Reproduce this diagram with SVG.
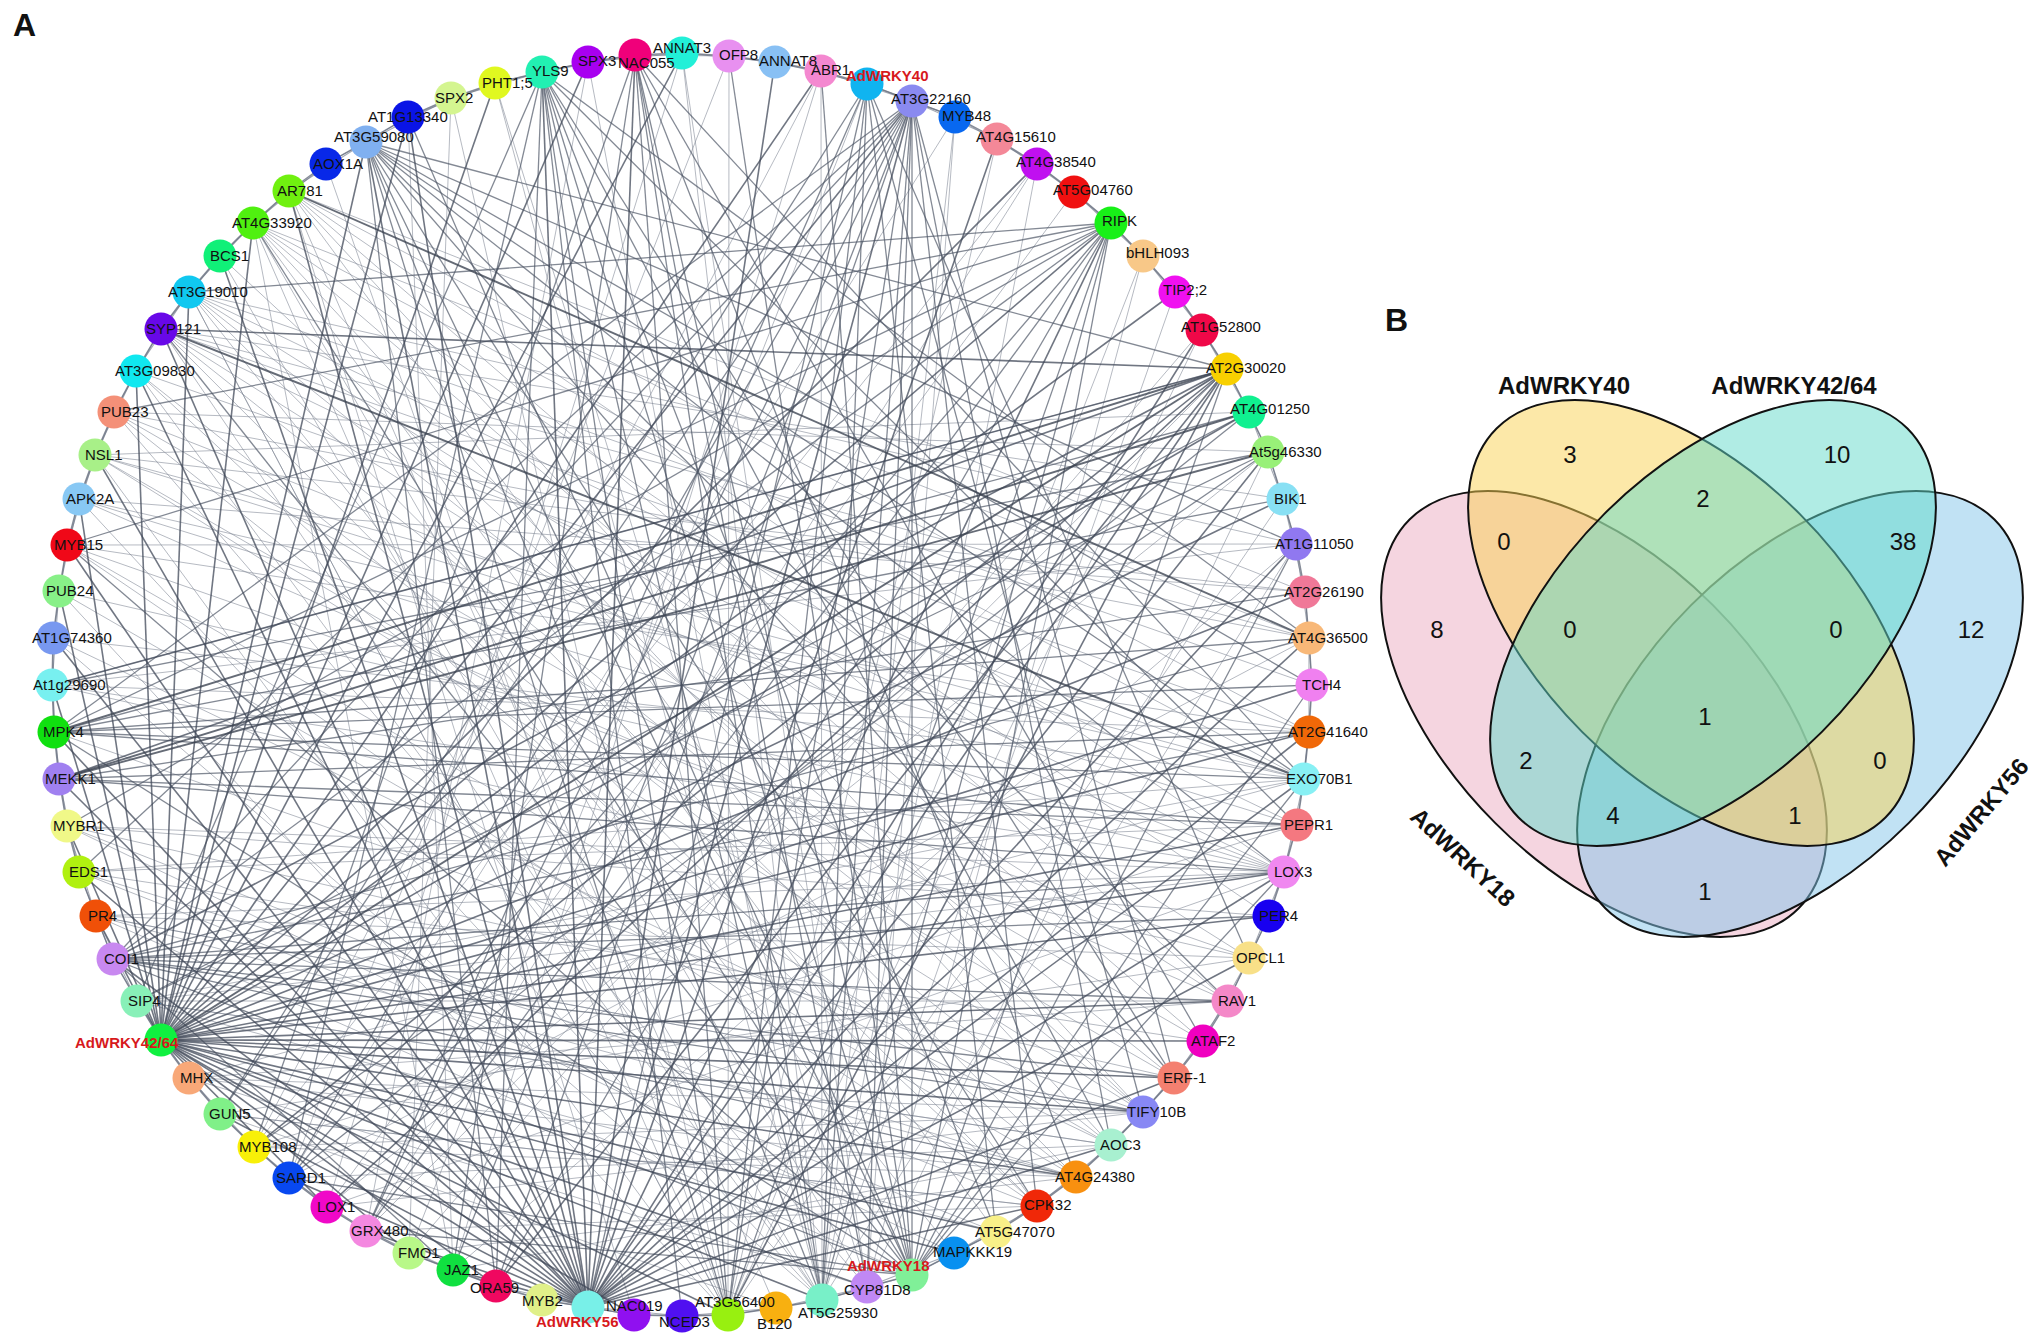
<svg xmlns="http://www.w3.org/2000/svg" width="2033" height="1337" viewBox="0 0 2033 1337">
<style>
text{font-family:"Liberation Sans",Arial,Helvetica,sans-serif}
.lbl{font-size:15px;fill:#111}
.red{font-size:15px;font-weight:bold;fill:#d7191c}
.panel{font-size:32px;font-weight:bold;fill:#111}
.e1{stroke:#7a8290;stroke-width:1;stroke-opacity:0.55}
.e2{stroke:#4f5767;stroke-width:1.3;stroke-opacity:0.7}
.e3{stroke:#404858;stroke-width:1.6;stroke-opacity:0.75}
.e4{stroke:#3a4150;stroke-width:1.9;stroke-opacity:0.78}
.ring{fill:none;stroke:#5f6777;stroke-width:1.4;stroke-opacity:0.75}
.ring2{fill:none;stroke:#6b7383;stroke-width:1.1;stroke-opacity:0.6}
.set{stroke:#111;stroke-width:2;fill-opacity:0.5}
.num{font-size:24px;text-anchor:middle;fill:#111}
.vt{font-size:24px;font-weight:bold;text-anchor:middle;fill:#111}
</style>
<rect width="2033" height="1337" fill="#fff"/>
<text class="panel" x="13" y="36">A</text>
<g id="connectors">
<polygon class="ring" points="408,117 451,98 495,83 542,72 588,62 635,55 682,53 729,56 775,62 821,71 867,84 912,101 955,117 997,139 1037,164 1074,192 1111,223 1143,256 1175,292 1202,330 1227,369 1249,412 1268,452 1283,499 1296,544 1305,592 1309,638 1312,685 1309,732 1304,779 1297,825 1284,872 1269,916 1249,958 1228,1001 1203,1041 1174,1078 1143,1112 1111,1145 1076,1177 1037,1206 996,1232 954,1253 912,1275 867,1287 822,1300 776,1308 728,1315 682,1316 634,1315 588,1307 542,1300 496,1286 453,1270 409,1253 366,1231 327,1207 289,1178 254,1147 220,1114 189,1078 161,1040 137,1001 113,959 96,916 79,872 67,826 59,779 54,732 52,685 53,638 59,591 67,545 79,499 95,455 114,412 136,371 161,329 189,292 220,256 253,223 289,191 326,164 366,142"/>
<polygon class="ring2" points="408,117 495,83 588,62 682,53 775,62 867,84 955,117 1037,164 1111,223 1175,292 1227,369 1268,452 1296,544 1309,638 1309,732 1297,825 1269,916 1228,1001 1174,1078 1111,1145 1037,1206 954,1253 867,1287 776,1308 682,1316 588,1307 496,1286 409,1253 327,1207 254,1147 189,1078 137,1001 96,916 67,826 54,732 53,638 67,545 95,455 136,371 189,292 253,223 326,164"/>
<polygon class="ring2" points="451,98 542,72 635,55 729,56 821,71 912,101 997,139 1074,192 1143,256 1202,330 1249,412 1283,499 1305,592 1312,685 1304,779 1284,872 1249,958 1203,1041 1143,1112 1076,1177 996,1232 912,1275 822,1300 728,1315 634,1315 542,1300 453,1270 366,1231 289,1178 220,1114 161,1040 113,959 79,872 59,779 52,685 59,591 79,499 114,412 161,329 220,256 289,191 366,142"/>
<g class="e1">
<line x1="161" y1="329" x2="1283" y2="499"/><line x1="161" y1="329" x2="1309" y2="638"/><line x1="161" y1="329" x2="1284" y2="872"/><line x1="161" y1="329" x2="1228" y2="1001"/><line x1="161" y1="329" x2="1143" y2="1112"/><line x1="161" y1="329" x2="1037" y2="1206"/><line x1="161" y1="329" x2="822" y2="1300"/><line x1="161" y1="329" x2="1309" y2="732"/>
<line x1="189" y1="292" x2="1296" y2="544"/><line x1="189" y1="292" x2="1312" y2="685"/><line x1="189" y1="292" x2="1297" y2="825"/><line x1="189" y1="292" x2="1249" y2="958"/><line x1="189" y1="292" x2="1174" y2="1078"/><line x1="189" y1="292" x2="1076" y2="1177"/><line x1="189" y1="292" x2="954" y2="1253"/><line x1="189" y1="292" x2="728" y2="1315"/>
<line x1="253" y1="223" x2="1309" y2="638"/><line x1="253" y1="223" x2="1304" y2="779"/><line x1="253" y1="223" x2="1269" y2="916"/><line x1="253" y1="223" x2="1203" y2="1041"/><line x1="253" y1="223" x2="1111" y2="1145"/><line x1="253" y1="223" x2="996" y2="1232"/><line x1="253" y1="223" x2="867" y2="1287"/><line x1="253" y1="223" x2="728" y2="1315"/><line x1="253" y1="223" x2="453" y2="1270"/>
<line x1="289" y1="191" x2="1305" y2="592"/><line x1="289" y1="191" x2="1309" y2="732"/><line x1="289" y1="191" x2="1284" y2="872"/><line x1="289" y1="191" x2="1228" y2="1001"/><line x1="289" y1="191" x2="1143" y2="1112"/><line x1="289" y1="191" x2="1037" y2="1206"/><line x1="289" y1="191" x2="776" y2="1308"/><line x1="289" y1="191" x2="634" y2="1315"/>
<line x1="1284" y1="872" x2="137" y2="1001"/><line x1="1284" y1="872" x2="96" y2="916"/><line x1="1284" y1="872" x2="67" y2="826"/><line x1="1284" y1="872" x2="52" y2="685"/><line x1="1284" y1="872" x2="59" y2="591"/><line x1="1284" y1="872" x2="79" y2="499"/><line x1="1284" y1="872" x2="327" y2="1207"/>
<line x1="1304" y1="779" x2="189" y2="1078"/><line x1="1304" y1="779" x2="137" y2="1001"/><line x1="1304" y1="779" x2="79" y2="872"/><line x1="1304" y1="779" x2="53" y2="638"/><line x1="1304" y1="779" x2="95" y2="455"/><line x1="1304" y1="779" x2="136" y2="371"/>
<line x1="822" y1="1300" x2="495" y2="83"/><line x1="822" y1="1300" x2="588" y2="62"/><line x1="822" y1="1300" x2="682" y2="53"/><line x1="822" y1="1300" x2="821" y2="71"/><line x1="822" y1="1300" x2="955" y2="117"/><line x1="822" y1="1300" x2="1037" y2="164"/><line x1="822" y1="1300" x2="1175" y2="292"/><line x1="822" y1="1300" x2="1296" y2="544"/><line x1="822" y1="1300" x2="53" y2="638"/><line x1="822" y1="1300" x2="79" y2="499"/><line x1="822" y1="1300" x2="136" y2="371"/><line x1="822" y1="1300" x2="220" y2="256"/>
<line x1="728" y1="1315" x2="451" y2="98"/><line x1="728" y1="1315" x2="729" y2="56"/><line x1="728" y1="1315" x2="997" y2="139"/><line x1="728" y1="1315" x2="1143" y2="256"/><line x1="728" y1="1315" x2="1202" y2="330"/><line x1="728" y1="1315" x2="1283" y2="499"/><line x1="728" y1="1315" x2="59" y2="591"/><line x1="728" y1="1315" x2="95" y2="455"/><line x1="728" y1="1315" x2="189" y2="292"/><line x1="728" y1="1315" x2="326" y2="164"/>
<line x1="867" y1="1287" x2="495" y2="83"/><line x1="867" y1="1287" x2="682" y2="53"/><line x1="867" y1="1287" x2="955" y2="117"/><line x1="867" y1="1287" x2="1143" y2="256"/><line x1="867" y1="1287" x2="1268" y2="452"/><line x1="867" y1="1287" x2="114" y2="412"/>
<line x1="1143" y1="1112" x2="327" y2="1207"/><line x1="1143" y1="1112" x2="254" y2="1147"/><line x1="1143" y1="1112" x2="189" y2="1078"/><line x1="1143" y1="1112" x2="96" y2="916"/><line x1="1143" y1="1112" x2="54" y2="732"/><line x1="1143" y1="1112" x2="95" y2="455"/><line x1="1143" y1="1112" x2="220" y2="256"/>
<line x1="1111" y1="1145" x2="453" y2="1270"/><line x1="1111" y1="1145" x2="289" y2="1178"/><line x1="1111" y1="1145" x2="137" y2="1001"/><line x1="1111" y1="1145" x2="53" y2="638"/><line x1="1111" y1="1145" x2="136" y2="371"/>
<line x1="1076" y1="1177" x2="409" y2="1253"/><line x1="1076" y1="1177" x2="254" y2="1147"/><line x1="1076" y1="1177" x2="79" y2="872"/><line x1="1076" y1="1177" x2="59" y2="591"/><line x1="1076" y1="1177" x2="114" y2="412"/>
<line x1="1037" y1="1206" x2="366" y2="1231"/><line x1="1037" y1="1206" x2="220" y2="1114"/><line x1="1037" y1="1206" x2="67" y2="826"/><line x1="1037" y1="1206" x2="67" y2="545"/><line x1="1037" y1="1206" x2="136" y2="371"/>
<line x1="67" y1="545" x2="1296" y2="544"/><line x1="67" y1="545" x2="1309" y2="732"/><line x1="67" y1="545" x2="1249" y2="958"/><line x1="67" y1="545" x2="1111" y2="1145"/>
<line x1="114" y1="412" x2="1268" y2="452"/><line x1="114" y1="412" x2="1309" y2="638"/><line x1="114" y1="412" x2="1284" y2="872"/><line x1="114" y1="412" x2="1203" y2="1041"/>
<line x1="95" y1="455" x2="1249" y2="412"/><line x1="95" y1="455" x2="1305" y2="592"/><line x1="95" y1="455" x2="1297" y2="825"/><line x1="95" y1="455" x2="1174" y2="1078"/>
<line x1="79" y1="499" x2="1305" y2="592"/><line x1="79" y1="499" x2="1304" y2="779"/><line x1="79" y1="499" x2="1228" y2="1001"/>
<line x1="52" y1="685" x2="1227" y2="369"/><line x1="52" y1="685" x2="1296" y2="544"/><line x1="52" y1="685" x2="1309" y2="732"/><line x1="52" y1="685" x2="1249" y2="958"/>
<line x1="96" y1="916" x2="1249" y2="958"/><line x1="96" y1="916" x2="1143" y2="1112"/><line x1="96" y1="916" x2="1076" y2="1177"/><line x1="96" y1="916" x2="912" y2="1275"/>
<line x1="79" y1="872" x2="1297" y2="825"/><line x1="79" y1="872" x2="1203" y2="1041"/><line x1="79" y1="872" x2="996" y2="1232"/>
<line x1="67" y1="826" x2="1269" y2="916"/><line x1="67" y1="826" x2="1174" y2="1078"/><line x1="67" y1="826" x2="954" y2="1253"/>
<line x1="137" y1="1001" x2="1228" y2="1001"/><line x1="137" y1="1001" x2="1111" y2="1145"/><line x1="137" y1="1001" x2="996" y2="1232"/>
<line x1="189" y1="1078" x2="1228" y2="1001"/><line x1="189" y1="1078" x2="1076" y2="1177"/><line x1="189" y1="1078" x2="867" y2="1287"/>
<line x1="220" y1="1114" x2="1249" y2="958"/><line x1="220" y1="1114" x2="1037" y2="1206"/><line x1="220" y1="1114" x2="776" y2="1308"/>
<line x1="254" y1="1147" x2="821" y2="71"/><line x1="254" y1="1147" x2="1037" y2="164"/><line x1="254" y1="1147" x2="1297" y2="825"/>
<line x1="289" y1="1178" x2="729" y2="56"/><line x1="289" y1="1178" x2="955" y2="117"/><line x1="289" y1="1178" x2="1309" y2="638"/>
<line x1="327" y1="1207" x2="682" y2="53"/><line x1="327" y1="1207" x2="1074" y2="192"/><line x1="327" y1="1207" x2="1268" y2="452"/>
<line x1="366" y1="1231" x2="588" y2="62"/><line x1="366" y1="1231" x2="1037" y2="164"/><line x1="366" y1="1231" x2="1227" y2="369"/>
<line x1="409" y1="1253" x2="451" y2="98"/><line x1="409" y1="1253" x2="867" y2="84"/><line x1="409" y1="1253" x2="1202" y2="330"/>
<line x1="453" y1="1270" x2="408" y2="117"/><line x1="453" y1="1270" x2="821" y2="71"/><line x1="453" y1="1270" x2="1296" y2="544"/>
</g>
<g class="e2">
<line x1="912" y1="1275" x2="542" y2="72"/><line x1="912" y1="1275" x2="635" y2="55"/><line x1="912" y1="1275" x2="912" y2="101"/><line x1="912" y1="1275" x2="1111" y2="223"/><line x1="912" y1="1275" x2="1227" y2="369"/><line x1="912" y1="1275" x2="1312" y2="685"/><line x1="912" y1="1275" x2="1304" y2="779"/><line x1="912" y1="1275" x2="1284" y2="872"/><line x1="912" y1="1275" x2="113" y2="959"/><line x1="912" y1="1275" x2="54" y2="732"/><line x1="912" y1="1275" x2="67" y2="545"/><line x1="912" y1="1275" x2="161" y2="329"/><line x1="912" y1="1275" x2="253" y2="223"/><line x1="912" y1="1275" x2="366" y2="142"/><line x1="912" y1="1275" x2="366" y2="1231"/><line x1="912" y1="1275" x2="289" y2="1178"/><line x1="912" y1="1275" x2="408" y2="117"/><line x1="912" y1="1275" x2="729" y2="56"/><line x1="912" y1="1275" x2="821" y2="71"/><line x1="912" y1="1275" x2="1296" y2="544"/>
<line x1="867" y1="84" x2="822" y2="1300"/><line x1="867" y1="84" x2="728" y2="1315"/><line x1="867" y1="84" x2="588" y2="1307"/><line x1="867" y1="84" x2="366" y2="1231"/><line x1="867" y1="84" x2="1143" y2="1112"/><line x1="867" y1="84" x2="1249" y2="958"/><line x1="867" y1="84" x2="220" y2="1114"/><line x1="867" y1="84" x2="996" y2="1232"/>
<line x1="912" y1="101" x2="496" y2="1286"/><line x1="912" y1="101" x2="366" y2="1231"/><line x1="912" y1="101" x2="289" y2="1178"/><line x1="912" y1="101" x2="220" y2="1114"/><line x1="912" y1="101" x2="113" y2="959"/><line x1="912" y1="101" x2="79" y2="872"/><line x1="912" y1="101" x2="54" y2="732"/><line x1="912" y1="101" x2="822" y2="1300"/><line x1="912" y1="101" x2="728" y2="1315"/><line x1="912" y1="101" x2="1174" y2="1078"/><line x1="912" y1="101" x2="1111" y2="1145"/><line x1="912" y1="101" x2="1037" y2="1206"/><line x1="912" y1="101" x2="867" y2="1287"/><line x1="912" y1="101" x2="453" y2="1270"/>
<line x1="542" y1="72" x2="822" y2="1300"/><line x1="542" y1="72" x2="728" y2="1315"/><line x1="542" y1="72" x2="682" y2="1316"/><line x1="542" y1="72" x2="496" y2="1286"/><line x1="542" y1="72" x2="1174" y2="1078"/><line x1="542" y1="72" x2="1111" y2="1145"/><line x1="542" y1="72" x2="996" y2="1232"/><line x1="542" y1="72" x2="1297" y2="825"/><line x1="542" y1="72" x2="289" y2="1178"/><line x1="542" y1="72" x2="137" y2="1001"/><line x1="542" y1="72" x2="1309" y2="638"/>
<line x1="635" y1="55" x2="867" y2="1287"/><line x1="635" y1="55" x2="822" y2="1300"/><line x1="635" y1="55" x2="453" y2="1270"/><line x1="635" y1="55" x2="1203" y2="1041"/><line x1="635" y1="55" x2="1076" y2="1177"/><line x1="635" y1="55" x2="1304" y2="779"/><line x1="635" y1="55" x2="254" y2="1147"/><line x1="635" y1="55" x2="728" y2="1315"/>
<line x1="366" y1="142" x2="1227" y2="369"/><line x1="366" y1="142" x2="1296" y2="544"/><line x1="366" y1="142" x2="1312" y2="685"/><line x1="366" y1="142" x2="1304" y2="779"/><line x1="366" y1="142" x2="1284" y2="872"/><line x1="366" y1="142" x2="1228" y2="1001"/><line x1="366" y1="142" x2="1174" y2="1078"/><line x1="366" y1="142" x2="1037" y2="1206"/><line x1="366" y1="142" x2="822" y2="1300"/><line x1="366" y1="142" x2="496" y2="1286"/><line x1="366" y1="142" x2="728" y2="1315"/>
<line x1="1111" y1="223" x2="496" y2="1286"/><line x1="1111" y1="223" x2="366" y2="1231"/><line x1="1111" y1="223" x2="289" y2="1178"/><line x1="1111" y1="223" x2="113" y2="959"/><line x1="1111" y1="223" x2="67" y2="826"/><line x1="1111" y1="223" x2="54" y2="732"/><line x1="1111" y1="223" x2="67" y2="545"/><line x1="1111" y1="223" x2="114" y2="412"/><line x1="1111" y1="223" x2="189" y2="292"/><line x1="1111" y1="223" x2="728" y2="1315"/><line x1="1111" y1="223" x2="822" y2="1300"/>
<line x1="1249" y1="412" x2="54" y2="732"/><line x1="1249" y1="412" x2="137" y2="1001"/><line x1="1249" y1="412" x2="289" y2="1178"/>
<line x1="1268" y1="452" x2="52" y2="685"/><line x1="1268" y1="452" x2="137" y2="1001"/><line x1="1268" y1="452" x2="254" y2="1147"/>
<line x1="113" y1="959" x2="1284" y2="872"/><line x1="113" y1="959" x2="1269" y2="916"/><line x1="113" y1="959" x2="1228" y2="1001"/><line x1="113" y1="959" x2="1174" y2="1078"/><line x1="113" y1="959" x2="1143" y2="1112"/><line x1="113" y1="959" x2="1076" y2="1177"/><line x1="113" y1="959" x2="1309" y2="732"/><line x1="113" y1="959" x2="1309" y2="638"/><line x1="113" y1="959" x2="453" y2="1270"/>
<line x1="54" y1="732" x2="1312" y2="685"/><line x1="54" y1="732" x2="1304" y2="779"/><line x1="54" y1="732" x2="1297" y2="825"/><line x1="54" y1="732" x2="1309" y2="638"/><line x1="54" y1="732" x2="1283" y2="499"/>
<line x1="59" y1="779" x2="1305" y2="592"/><line x1="59" y1="779" x2="1309" y2="732"/><line x1="59" y1="779" x2="1297" y2="825"/><line x1="59" y1="779" x2="1284" y2="872"/>
</g>
<g class="e3">
<line x1="588" y1="1307" x2="408" y2="117"/><line x1="588" y1="1307" x2="542" y2="72"/><line x1="588" y1="1307" x2="635" y2="55"/><line x1="588" y1="1307" x2="775" y2="62"/><line x1="588" y1="1307" x2="912" y2="101"/><line x1="588" y1="1307" x2="997" y2="139"/><line x1="588" y1="1307" x2="1111" y2="223"/><line x1="588" y1="1307" x2="1202" y2="330"/><line x1="588" y1="1307" x2="1227" y2="369"/><line x1="588" y1="1307" x2="1268" y2="452"/><line x1="588" y1="1307" x2="1296" y2="544"/><line x1="588" y1="1307" x2="1309" y2="638"/><line x1="588" y1="1307" x2="1309" y2="732"/><line x1="588" y1="1307" x2="1304" y2="779"/><line x1="588" y1="1307" x2="1284" y2="872"/><line x1="588" y1="1307" x2="1249" y2="958"/><line x1="588" y1="1307" x2="1174" y2="1078"/><line x1="588" y1="1307" x2="1111" y2="1145"/><line x1="588" y1="1307" x2="1037" y2="1206"/><line x1="588" y1="1307" x2="366" y2="142"/><line x1="588" y1="1307" x2="289" y2="191"/><line x1="588" y1="1307" x2="220" y2="256"/><line x1="588" y1="1307" x2="161" y2="329"/><line x1="588" y1="1307" x2="136" y2="371"/><line x1="588" y1="1307" x2="95" y2="455"/><line x1="588" y1="1307" x2="67" y2="545"/><line x1="588" y1="1307" x2="53" y2="638"/><line x1="588" y1="1307" x2="54" y2="732"/><line x1="588" y1="1307" x2="59" y2="779"/><line x1="588" y1="1307" x2="79" y2="872"/><line x1="588" y1="1307" x2="113" y2="959"/><line x1="588" y1="1307" x2="161" y2="1040"/><line x1="588" y1="1307" x2="220" y2="1114"/><line x1="588" y1="1307" x2="289" y2="1178"/><line x1="588" y1="1307" x2="366" y2="1231"/><line x1="588" y1="1307" x2="453" y2="1270"/>
<line x1="161" y1="1040" x2="408" y2="117"/><line x1="161" y1="1040" x2="495" y2="83"/><line x1="161" y1="1040" x2="588" y2="62"/><line x1="161" y1="1040" x2="682" y2="53"/><line x1="161" y1="1040" x2="821" y2="71"/><line x1="161" y1="1040" x2="912" y2="101"/><line x1="161" y1="1040" x2="1037" y2="164"/><line x1="161" y1="1040" x2="1111" y2="223"/><line x1="161" y1="1040" x2="1175" y2="292"/><line x1="161" y1="1040" x2="1249" y2="412"/><line x1="161" y1="1040" x2="1283" y2="499"/><line x1="161" y1="1040" x2="1305" y2="592"/><line x1="161" y1="1040" x2="1312" y2="685"/><line x1="161" y1="1040" x2="1309" y2="732"/><line x1="161" y1="1040" x2="1297" y2="825"/><line x1="161" y1="1040" x2="1284" y2="872"/><line x1="161" y1="1040" x2="1269" y2="916"/><line x1="161" y1="1040" x2="1228" y2="1001"/><line x1="161" y1="1040" x2="1203" y2="1041"/><line x1="161" y1="1040" x2="1174" y2="1078"/><line x1="161" y1="1040" x2="1143" y2="1112"/><line x1="161" y1="1040" x2="1076" y2="1177"/><line x1="161" y1="1040" x2="996" y2="1232"/><line x1="161" y1="1040" x2="954" y2="1253"/><line x1="161" y1="1040" x2="867" y2="1287"/><line x1="161" y1="1040" x2="822" y2="1300"/><line x1="161" y1="1040" x2="728" y2="1315"/><line x1="161" y1="1040" x2="634" y2="1315"/><line x1="161" y1="1040" x2="496" y2="1286"/><line x1="161" y1="1040" x2="409" y2="1253"/><line x1="161" y1="1040" x2="327" y2="1207"/><line x1="161" y1="1040" x2="366" y2="142"/><line x1="161" y1="1040" x2="253" y2="223"/><line x1="161" y1="1040" x2="189" y2="292"/><line x1="161" y1="1040" x2="136" y2="371"/><line x1="161" y1="1040" x2="79" y2="499"/><line x1="161" y1="1040" x2="59" y2="591"/><line x1="161" y1="1040" x2="52" y2="685"/><line x1="161" y1="1040" x2="67" y2="826"/><line x1="161" y1="1040" x2="96" y2="916"/>
<line x1="1227" y1="369" x2="59" y2="779"/><line x1="1227" y1="369" x2="52" y2="685"/><line x1="1227" y1="369" x2="113" y2="959"/><line x1="1227" y1="369" x2="327" y2="1207"/><line x1="1227" y1="369" x2="496" y2="1286"/><line x1="1227" y1="369" x2="728" y2="1315"/><line x1="1227" y1="369" x2="161" y2="329"/><line x1="1227" y1="369" x2="254" y2="1147"/>
</g>
<g class="e4">
<line x1="54" y1="732" x2="1227" y2="369"/>
<line x1="59" y1="779" x2="1249" y2="412"/>
<line x1="59" y1="779" x2="1268" y2="452"/>
<line x1="161" y1="1040" x2="1227" y2="369"/>
<line x1="289" y1="191" x2="1309" y2="638"/>
<line x1="161" y1="329" x2="1304" y2="779"/>
</g>
</g>
<g id="nodes">
<g id="n-AT4G15610"><circle cx="997" cy="139" r="16.5" fill="#f48898"/><text class="lbl" x="976" y="142">AT4G15610</text></g>
<g id="n-AT4G38540"><circle cx="1037" cy="164" r="16.5" fill="#c010f0"/><text class="lbl" x="1016" y="167">AT4G38540</text></g>
<g id="n-AT5G04760"><circle cx="1074" cy="192" r="16.5" fill="#f01010"/><text class="lbl" x="1053" y="195">AT5G04760</text></g>
<g id="n-RIPK"><circle cx="1111" cy="223" r="16.5" fill="#18f018"/><text class="lbl" x="1102" y="226">RIPK</text></g>
<g id="n-bHLH093"><circle cx="1143" cy="256" r="16.5" fill="#f8c888"/><text class="lbl" x="1126" y="258">bHLH093</text></g>
<g id="n-TIP2_2"><circle cx="1175" cy="292" r="16.5" fill="#f010f0"/><text class="lbl" x="1163" y="295">TIP2;2</text></g>
<g id="n-AT1G52800"><circle cx="1202" cy="330" r="16.5" fill="#f00848"/><text class="lbl" x="1181" y="332">AT1G52800</text></g>
<g id="n-AT2G30020"><circle cx="1227" cy="369" r="16.5" fill="#f8d000"/><text class="lbl" x="1206" y="373">AT2G30020</text></g>
<g id="n-AT4G01250"><circle cx="1249" cy="412" r="16.5" fill="#10f090"/><text class="lbl" x="1230" y="414">AT4G01250</text></g>
<g id="n-At5g46330"><circle cx="1268" cy="452" r="16.5" fill="#98f078"/><text class="lbl" x="1249" y="457">At5g46330</text></g>
<g id="n-BIK1"><circle cx="1283" cy="499" r="16.5" fill="#88e0f4"/><text class="lbl" x="1274" y="504">BIK1</text></g>
<g id="n-AT1G11050"><circle cx="1296" cy="544" r="16.5" fill="#9078f0"/><text class="lbl" x="1275" y="549">AT1G11050</text></g>
<g id="n-AT2G26190"><circle cx="1305" cy="592" r="16.5" fill="#f07898"/><text class="lbl" x="1284" y="597">AT2G26190</text></g>
<g id="n-AT4G36500"><circle cx="1309" cy="638" r="16.5" fill="#f8b878"/><text class="lbl" x="1288" y="643">AT4G36500</text></g>
<g id="n-TCH4"><circle cx="1312" cy="685" r="16.5" fill="#f080f0"/><text class="lbl" x="1302" y="690">TCH4</text></g>
<g id="n-AT2G41640"><circle cx="1309" cy="732" r="16.5" fill="#f06808"/><text class="lbl" x="1288" y="737">AT2G41640</text></g>
<g id="n-EXO70B1"><circle cx="1304" cy="779" r="16.5" fill="#88f0f4"/><text class="lbl" x="1286" y="784">EXO70B1</text></g>
<g id="n-PEPR1"><circle cx="1297" cy="825" r="16.5" fill="#f47880"/><text class="lbl" x="1284" y="830">PEPR1</text></g>
<g id="n-LOX3"><circle cx="1284" cy="872" r="16.5" fill="#f088f0"/><text class="lbl" x="1274" y="877">LOX3</text></g>
<g id="n-PER4"><circle cx="1269" cy="916" r="16.5" fill="#1800f0"/><text class="lbl" x="1259" y="921">PER4</text></g>
<g id="n-OPCL1"><circle cx="1249" cy="958" r="16.5" fill="#f8e088"/><text class="lbl" x="1236" y="963">OPCL1</text></g>
<g id="n-RAV1"><circle cx="1228" cy="1001" r="16.5" fill="#f488c8"/><text class="lbl" x="1218" y="1006">RAV1</text></g>
<g id="n-ATAF2"><circle cx="1203" cy="1041" r="16.5" fill="#f000c0"/><text class="lbl" x="1191" y="1046">ATAF2</text></g>
<g id="n-ERF-1"><circle cx="1174" cy="1078" r="16.5" fill="#f48070"/><text class="lbl" x="1163" y="1083">ERF-1</text></g>
<g id="n-TIFY10B"><circle cx="1143" cy="1112" r="16.5" fill="#8888f4"/><text class="lbl" x="1127" y="1117">TIFY10B</text></g>
<g id="n-AOC3"><circle cx="1111" cy="1145" r="16.5" fill="#a8f0d0"/><text class="lbl" x="1100" y="1150">AOC3</text></g>
<g id="n-AT4G24380"><circle cx="1076" cy="1177" r="16.5" fill="#f89010"/><text class="lbl" x="1055" y="1182">AT4G24380</text></g>
<g id="n-CPK32"><circle cx="1037" cy="1206" r="16.5" fill="#f02808"/><text class="lbl" x="1024" y="1210">CPK32</text></g>
<g id="n-AT5G47070"><circle cx="996" cy="1232" r="16.5" fill="#f8f088"/><text class="lbl" x="975" y="1237">AT5G47070</text></g>
<g id="n-MAPKKK19"><circle cx="954" cy="1253" r="16.5" fill="#0890f0"/><text class="lbl" x="933" y="1257">MAPKKK19</text></g>
<g id="n-AdWRKY18"><circle cx="912" cy="1275" r="16.5" fill="#80f098"/><text class="red" x="847" y="1271">AdWRKY18</text></g>
<g id="n-CYP81D8"><circle cx="867" cy="1287" r="16.5" fill="#c088f4"/><text class="lbl" x="844" y="1295">CYP81D8</text></g>
<g id="n-AT5G25930"><circle cx="822" cy="1300" r="16.5" fill="#78f0c8"/><text class="lbl" x="798" y="1318">AT5G25930</text></g>
<g id="n-B120"><circle cx="776" cy="1308" r="16.5" fill="#f8b010"/><text class="lbl" x="757" y="1329">B120</text></g>
<g id="n-AT3G56400"><circle cx="728" cy="1315" r="16.5" fill="#98f010"/><text class="lbl" x="695" y="1307">AT3G56400</text></g>
<g id="n-NCED3"><circle cx="682" cy="1316" r="16.5" fill="#5010f0"/><text class="lbl" x="659" y="1327">NCED3</text></g>
<g id="n-NAC019"><circle cx="634" cy="1315" r="16.5" fill="#9010f0"/><text class="lbl" x="606" y="1311">NAC019</text></g>
<g id="n-AdWRKY56"><circle cx="588" cy="1307" r="16.5" fill="#78f0e8"/><text class="red" x="536" y="1327">AdWRKY56</text></g>
<g id="n-MYB2"><circle cx="542" cy="1300" r="16.5" fill="#e0f088"/><text class="lbl" x="522" y="1306">MYB2</text></g>
<g id="n-ORA59"><circle cx="496" cy="1286" r="16.5" fill="#f00860"/><text class="lbl" x="470" y="1293">ORA59</text></g>
<g id="n-JAZ1"><circle cx="453" cy="1270" r="16.5" fill="#10e040"/><text class="lbl" x="444" y="1275">JAZ1</text></g>
<g id="n-FMO1"><circle cx="409" cy="1253" r="16.5" fill="#b8f888"/><text class="lbl" x="398" y="1258">FMO1</text></g>
<g id="n-GRX480"><circle cx="366" cy="1231" r="16.5" fill="#f488e0"/><text class="lbl" x="351" y="1236">GRX480</text></g>
<g id="n-LOX1"><circle cx="327" cy="1207" r="16.5" fill="#f008c8"/><text class="lbl" x="317" y="1212">LOX1</text></g>
<g id="n-SARD1"><circle cx="289" cy="1178" r="16.5" fill="#0848f0"/><text class="lbl" x="276" y="1183">SARD1</text></g>
<g id="n-MYB108"><circle cx="254" cy="1147" r="16.5" fill="#f8f008"/><text class="lbl" x="239" y="1152">MYB108</text></g>
<g id="n-GUN5"><circle cx="220" cy="1114" r="16.5" fill="#80f088"/><text class="lbl" x="209" y="1119">GUN5</text></g>
<g id="n-MHX"><circle cx="189" cy="1078" r="16.5" fill="#f8a878"/><text class="lbl" x="180" y="1083">MHX</text></g>
<g id="n-AdWRKY42_64"><circle cx="161" cy="1040" r="16.5" fill="#10f040"/><text class="red" x="75" y="1048">AdWRKY42/64</text></g>
<g id="n-SIP4"><circle cx="137" cy="1001" r="16.5" fill="#88f0b8"/><text class="lbl" x="128" y="1006">SIP4</text></g>
<g id="n-COI1"><circle cx="113" cy="959" r="16.5" fill="#c888f0"/><text class="lbl" x="104" y="964">COI1</text></g>
<g id="n-PR4"><circle cx="96" cy="916" r="16.5" fill="#f05008"/><text class="lbl" x="88" y="921">PR4</text></g>
<g id="n-EDS1"><circle cx="79" cy="872" r="16.5" fill="#b0f010"/><text class="lbl" x="69" y="877">EDS1</text></g>
<g id="n-MYBR1"><circle cx="67" cy="826" r="16.5" fill="#f0f888"/><text class="lbl" x="53" y="831">MYBR1</text></g>
<g id="n-MEKK1"><circle cx="59" cy="779" r="16.5" fill="#a080f0"/><text class="lbl" x="45" y="784">MEKK1</text></g>
<g id="n-MPK4"><circle cx="54" cy="732" r="16.5" fill="#10e010"/><text class="lbl" x="43" y="737">MPK4</text></g>
<g id="n-At1g29690"><circle cx="52" cy="685" r="16.5" fill="#78f0f0"/><text class="lbl" x="33" y="690">At1g29690</text></g>
<g id="n-AT1G74360"><circle cx="53" cy="638" r="16.5" fill="#7898f0"/><text class="lbl" x="32" y="643">AT1G74360</text></g>
<g id="n-PUB24"><circle cx="59" cy="591" r="16.5" fill="#88f088"/><text class="lbl" x="46" y="596">PUB24</text></g>
<g id="n-MYB15"><circle cx="67" cy="545" r="16.5" fill="#f00818"/><text class="lbl" x="54" y="550">MYB15</text></g>
<g id="n-APK2A"><circle cx="79" cy="499" r="16.5" fill="#88c8f4"/><text class="lbl" x="66" y="504">APK2A</text></g>
<g id="n-NSL1"><circle cx="95" cy="455" r="16.5" fill="#a8f088"/><text class="lbl" x="85" y="460">NSL1</text></g>
<g id="n-PUB23"><circle cx="114" cy="412" r="16.5" fill="#f49078"/><text class="lbl" x="101" y="417">PUB23</text></g>
<g id="n-AT3G09830"><circle cx="136" cy="371" r="16.5" fill="#10e8f0"/><text class="lbl" x="115" y="376">AT3G09830</text></g>
<g id="n-SYP121"><circle cx="161" cy="329" r="16.5" fill="#6808e8"/><text class="lbl" x="146" y="334">SYP121</text></g>
<g id="n-AT3G19010"><circle cx="189" cy="292" r="16.5" fill="#10c8f0"/><text class="lbl" x="168" y="297">AT3G19010</text></g>
<g id="n-BCS1"><circle cx="220" cy="256" r="16.5" fill="#10f078"/><text class="lbl" x="210" y="261">BCS1</text></g>
<g id="n-AT4G33920"><circle cx="253" cy="223" r="16.5" fill="#50f010"/><text class="lbl" x="232" y="228">AT4G33920</text></g>
<g id="n-AR781"><circle cx="289" cy="191" r="16.5" fill="#70f010"/><text class="lbl" x="277" y="196">AR781</text></g>
<g id="n-AOX1A"><circle cx="326" cy="164" r="16.5" fill="#0828e8"/><text class="lbl" x="313" y="169">AOX1A</text></g>
<g id="n-AT3G59080"><circle cx="366" cy="142" r="16.5" fill="#80b0f0"/><text class="lbl" x="334" y="142">AT3G59080</text></g>
<g id="n-MYB48"><circle cx="955" cy="117" r="16.5" fill="#0868f0"/><text class="lbl" x="942" y="121">MYB48</text></g>
<g id="n-AT3G22160"><circle cx="912" cy="101" r="16.5" fill="#8a8af0"/><text class="lbl" x="891" y="104">AT3G22160</text></g>
<g id="n-AdWRKY40"><circle cx="867" cy="84" r="16.5" fill="#10b4f0"/><text class="red" x="846" y="81">AdWRKY40</text></g>
<g id="n-ABR1"><circle cx="821" cy="71" r="16.5" fill="#f488d0"/><text class="lbl" x="811" y="75">ABR1</text></g>
<g id="n-ANNAT8"><circle cx="775" cy="62" r="16.5" fill="#88c0f4"/><text class="lbl" x="759" y="66">ANNAT8</text></g>
<g id="n-OFP8"><circle cx="729" cy="56" r="16.5" fill="#e890f0"/><text class="lbl" x="719" y="60">OFP8</text></g>
<g id="n-ANNAT3"><circle cx="682" cy="53" r="16.5" fill="#22f0d8"/><text class="lbl" x="653" y="53">ANNAT3</text></g>
<g id="n-NAC055"><circle cx="635" cy="55" r="16.5" fill="#f0007a"/><text class="lbl" x="618" y="68">NAC055</text></g>
<g id="n-SPX3"><circle cx="588" cy="62" r="16.5" fill="#a800f0"/><text class="lbl" x="578" y="66">SPX3</text></g>
<g id="n-YLS9"><circle cx="542" cy="72" r="16.5" fill="#22f0b2"/><text class="lbl" x="532" y="76">YLS9</text></g>
<g id="n-PHT1_5"><circle cx="495" cy="83" r="16.5" fill="#e0f820"/><text class="lbl" x="482" y="88">PHT1;5</text></g>
<g id="n-SPX2"><circle cx="451" cy="98" r="16.5" fill="#d4f590"/><text class="lbl" x="435" y="103">SPX2</text></g>
<g id="n-AT1G13340"><circle cx="408" cy="117" r="16.5" fill="#0a14e6"/><text class="lbl" x="368" y="122">AT1G13340</text></g>
</g>
<g id="venn">
<text class="panel" x="1385" y="331">B</text>
<ellipse class="set" cx="1604" cy="714" rx="275" ry="154" transform="rotate(45 1604 714)" fill="#ebabc1"/>
<ellipse class="set" cx="1800" cy="714" rx="275" ry="154" transform="rotate(-45 1800 714)" fill="#83c5e9"/>
<ellipse class="set" cx="1691" cy="623" rx="275" ry="154" transform="rotate(45 1691 623)" fill="#f9d151"/>
<ellipse class="set" cx="1713" cy="623" rx="275" ry="154" transform="rotate(-45 1713 623)" fill="#61d9c9"/>
<text class="vt" x="1564" y="394">AdWRKY40</text>
<text class="vt" x="1794" y="394">AdWRKY42/64</text>
<text class="vt" transform="translate(1463 857) rotate(43)" y="8.6">AdWRKY18</text>
<text class="vt" transform="translate(1981 812) rotate(-50)" y="8.6">AdWRKY56</text>
<text class="num" x="1570" y="463">3</text>
<text class="num" x="1837" y="463">10</text>
<text class="num" x="1703" y="507">2</text>
<text class="num" x="1504" y="550">0</text>
<text class="num" x="1903" y="550">38</text>
<text class="num" x="1437" y="638">8</text>
<text class="num" x="1570" y="638">0</text>
<text class="num" x="1836" y="638">0</text>
<text class="num" x="1971" y="638">12</text>
<text class="num" x="1705" y="725">1</text>
<text class="num" x="1526" y="769">2</text>
<text class="num" x="1880" y="769">0</text>
<text class="num" x="1613" y="824">4</text>
<text class="num" x="1795" y="824">1</text>
<text class="num" x="1705" y="900">1</text>
</g>
</svg>
